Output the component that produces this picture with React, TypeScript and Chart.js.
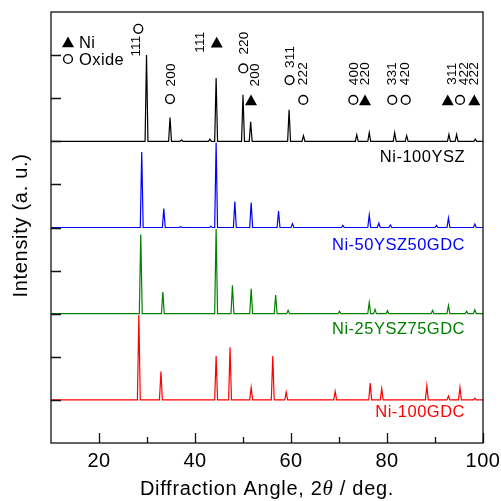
import React, { useEffect, useRef } from "react";
import { Chart, registerables } from "chart.js";

Chart.register(...registerables);

// ---- axes ----
const angleMin = 10;
const angleMax = 100;
const intensityMin = 0;
const intensityMax = 10;
const xTickLabels = [20, 40, 60, 80, 100];
const xMinorTicks = [30, 50, 70, 90];
const yTicks = [1, 2, 3, 4, 5, 6, 7, 8, 9];

// ---- samples ----
const sampleNames = ["Ni-100YSZ", "Ni-50YSZ50GDC", "Ni-25YSZ75GDC", "Ni-100GDC"];
const sampleColors = ["#000000", "#0000ff", "#008000", "#ff0000"];
const sampleBaselines = [7, 5, 3, 1];
const sampleNameLevels = [6.62, 4.59, 2.64, 0.72];
const sampleNameAngle = 96.25;

// peak positions (2θ) and heights (a.u. above baseline)
const ysz100Angles = [29.9, 34.8, 37.2, 43.1, 44.4, 50.0, 51.6, 59.6, 62.6, 73.7, 76.3, 81.6, 84.1, 92.9, 94.5, 98.4];
const ysz100Heights = [2.0, 0.55, 0.03, 0.05, 1.47, 1.08, 0.45, 0.73, 0.13, 0.15, 0.2, 0.2, 0.13, 0.16, 0.16, 0.05];

const ysz50Angles = [28.9, 33.5, 37.0, 43.3, 44.4, 48.3, 51.7, 57.4, 60.3, 70.8, 76.3, 78.3, 80.7, 90.3, 92.8, 98.3];
const ysz50Heights = [1.75, 0.44, 0.02, 0.03, 1.97, 0.6, 0.58, 0.38, 0.09, 0.05, 0.29, 0.1, 0.06, 0.05, 0.22, 0.08];

const ysz25Angles = [28.7, 33.3, 44.4, 47.8, 51.7, 56.8, 59.4, 70.1, 76.3, 77.5, 80.1, 89.5, 92.8, 96.6, 98.3];
const ysz25Heights = [1.84, 0.5, 1.97, 0.66, 0.58, 0.43, 0.08, 0.06, 0.26, 0.1, 0.07, 0.08, 0.19, 0.06, 0.09];

const gdc100Angles = [28.3, 32.9, 44.4, 47.3, 51.7, 56.2, 59.0, 69.2, 76.5, 78.9, 88.3, 92.8, 95.2, 98.3];
const gdc100Heights = [1.97, 0.66, 1.02, 1.22, 0.29, 1.02, 0.18, 0.2, 0.39, 0.26, 0.33, 0.09, 0.29, 0.04];

const sampleAngles = [ysz100Angles, ysz50Angles, ysz25Angles, gdc100Angles];
const sampleHeights = [ysz100Heights, ysz50Heights, ysz25Heights, gdc100Heights];

// ---- peak annotations ----
const annotationLabels = ["111", "200", "111", "220", "200", "311", "222", "400", "220", "331", "420", "311", "422", "222"];
const annotationPhases = ["oxide", "oxide", "ni", "oxide", "ni", "oxide", "oxide", "oxide", "ni", "oxide", "oxide", "ni", "oxide", "ni"];
const markerAngles = [28.19, 34.79, 44.52, 50.06, 51.67, 59.69, 62.56, 72.98, 75.42, 81.1, 83.9, 92.65, 95.21, 98.19];
const markerLevels = [9.61, 7.98, 9.3, 8.69, 7.96, 8.42, 7.96, 7.96, 7.96, 7.96, 7.96, 7.96, 7.96, 7.96];
const textAngles = [27.81, 35.1, 41.04, 50.21, 52.65, 59.79, 62.5, 73.13, 75.56, 81.1, 83.75, 93.69, 96.1, 98.19];
const textLevels = [9.21, 8.54, 9.3, 9.28, 8.54, 8.96, 8.57, 8.57, 8.57, 8.57, 8.57, 8.57, 8.57, 8.57];

const legendLabels = ["Ni", "Oxide"];
const legendPhases = ["ni", "oxide"];

const FONT = '"Liberation Sans", Arial, sans-serif';
const PEAK_HALF_WIDTH = 0.3;

function buildPoints(angles: number[], heights: number[], base: number) {
  const pts: { x: number; y: number }[] = [{ x: angleMin, y: base }];
  angles.forEach((a, i) => {
    pts.push({ x: a - PEAK_HALF_WIDTH, y: base });
    pts.push({ x: a, y: base + heights[i] });
    pts.push({ x: a + PEAK_HALF_WIDTH, y: base });
  });
  pts.push({ x: angleMax, y: base });
  return pts;
}

function drawMarker(ctx: CanvasRenderingContext2D, phase: string, x: number, y: number) {
  ctx.save();
  if (phase === "ni") {
    ctx.fillStyle = "#000";
    ctx.beginPath();
    ctx.moveTo(x, y - 5.5);
    ctx.lineTo(x + 6, y + 5.3);
    ctx.lineTo(x - 6, y + 5.3);
    ctx.closePath();
    ctx.fill();
  } else {
    ctx.strokeStyle = "#000";
    ctx.lineWidth = 1.4;
    ctx.beginPath();
    ctx.arc(x, y, 4.4, 0, Math.PI * 2);
    ctx.stroke();
  }
  ctx.restore();
}

const decorPlugin = {
  id: "xrdDecor",
  afterDraw(chart: any) {
    const ctx: CanvasRenderingContext2D = chart.ctx;
    const xs = chart.scales.x;
    const ys = chart.scales.y;
    const { left, right, top, bottom } = chart.chartArea;
    ctx.save();
    // frame
    ctx.strokeStyle = "#111";
    ctx.lineWidth = 1.3;
    ctx.strokeRect(left, top, right - left, bottom - top);
    // y ticks (inward)
    ctx.beginPath();
    yTicks.forEach((v) => {
      const py = Math.round(ys.getPixelForValue(v)) + 0.5;
      ctx.moveTo(left, py);
      ctx.lineTo(left + 10, py);
    });
    // x ticks (inward)
    xTickLabels.forEach((v) => {
      const px = Math.round(xs.getPixelForValue(v)) + 0.5;
      ctx.moveTo(px, bottom);
      ctx.lineTo(px, bottom - 10);
    });
    xMinorTicks.forEach((v) => {
      const px = Math.round(xs.getPixelForValue(v)) + 0.5;
      ctx.moveTo(px, bottom);
      ctx.lineTo(px, bottom - 6);
    });
    ctx.stroke();

    // x tick labels
    ctx.fillStyle = "#000";
    ctx.font = `20px ${FONT}`;
    (ctx as any).letterSpacing = "0.5px";
    ctx.textAlign = "center";
    ctx.textBaseline = "middle";
    xTickLabels.forEach((v) => {
      ctx.fillText(String(v), xs.getPixelForValue(v), bottom + 18);
    });

    // x title
    (ctx as any).letterSpacing = "0.7px";
    const part1 = "Diffraction Angle, 2";
    const part2 = "\u03b8";
    const part3 = " / deg.";
    ctx.font = `20px ${FONT}`;
    const w1 = ctx.measureText(part1).width;
    const w3 = ctx.measureText(part3).width;
    ctx.font = `italic 21px "Liberation Serif", "Times New Roman", serif`;
    const w2 = ctx.measureText(part2).width;
    const total = w1 + w2 + w3;
    let cx = (left + right) / 2 - total / 2;
    const ty = bottom + 46;
    ctx.textAlign = "left";
    ctx.font = `20px ${FONT}`;
    ctx.fillText(part1, cx, ty);
    cx += w1;
    ctx.font = `italic 21px "Liberation Serif", "Times New Roman", serif`;
    ctx.fillText(part2, cx, ty);
    cx += w2;
    ctx.font = `20px ${FONT}`;
    ctx.fillText(part3, cx, ty);

    // y title
    ctx.save();
    ctx.translate(21, (top + bottom) / 2 - 2);
    ctx.rotate(-Math.PI / 2);
    ctx.textAlign = "center";
    ctx.fillText("Intensity (a. u.)", 0, 0);
    ctx.restore();

    // sample names
    ctx.font = `16.5px ${FONT}`;
    (ctx as any).letterSpacing = "0.5px";
    ctx.textAlign = "right";
    sampleNames.forEach((name, i) => {
      ctx.fillStyle = sampleColors[i];
      ctx.fillText(name, xs.getPixelForValue(sampleNameAngle), ys.getPixelForValue(sampleNameLevels[i]));
    });

    // legend
    ctx.fillStyle = "#000";
    ctx.font = `16.5px ${FONT}`;
    (ctx as any).letterSpacing = "0.4px";
    ctx.textAlign = "left";
    legendLabels.forEach((lab, i) => {
      const y = top + 30 + i * 17;
      drawMarker(ctx, legendPhases[i], left + 17, y);
      ctx.fillText(lab, left + 28, y + 1);
    });

    // peak annotations
    ctx.font = `13.5px ${FONT}`;
    (ctx as any).letterSpacing = "0.2px";
    ctx.textAlign = "center";
    annotationLabels.forEach((lab, i) => {
      drawMarker(ctx, annotationPhases[i], xs.getPixelForValue(markerAngles[i]), ys.getPixelForValue(markerLevels[i]));
      ctx.save();
      ctx.translate(xs.getPixelForValue(textAngles[i]), ys.getPixelForValue(textLevels[i]));
      ctx.rotate(-Math.PI / 2);
      ctx.fillText(lab, 0, 0);
      ctx.restore();
    });
    ctx.restore();
  },
};

export default function App() {
  const ref = useRef<HTMLCanvasElement | null>(null);
  useEffect(() => {
    if (!ref.current) return;
    const datasets = sampleNames.map((name, i) => ({
      label: name,
      data: buildPoints(sampleAngles[i], sampleHeights[i], sampleBaselines[i]),
      borderColor: sampleColors[i],
      borderWidth: 1.2,
      pointRadius: 0,
      tension: 0,
      fill: false,
    }));
    const chart = new Chart(ref.current, {
      type: "line",
      data: { datasets },
      options: {
        responsive: false,
        animation: false,
        devicePixelRatio: 1,
        parsing: false as any,
        layout: { padding: { left: 51, right: 18, top: 12, bottom: 58 } },
        scales: {
          x: { type: "linear", min: angleMin, max: angleMax, display: false },
          y: { type: "linear", min: intensityMin, max: intensityMax, display: false },
        },
        plugins: { legend: { display: false }, tooltip: { enabled: false } },
      },
      plugins: [decorPlugin],
    });
    return () => chart.destroy();
  }, []);
  return (
    <div style={{ position: "fixed", left: 0, top: 0, width: 501, height: 501, background: "#fff" }}>
      <canvas ref={ref} width={501} height={501} />
    </div>
  );
}
